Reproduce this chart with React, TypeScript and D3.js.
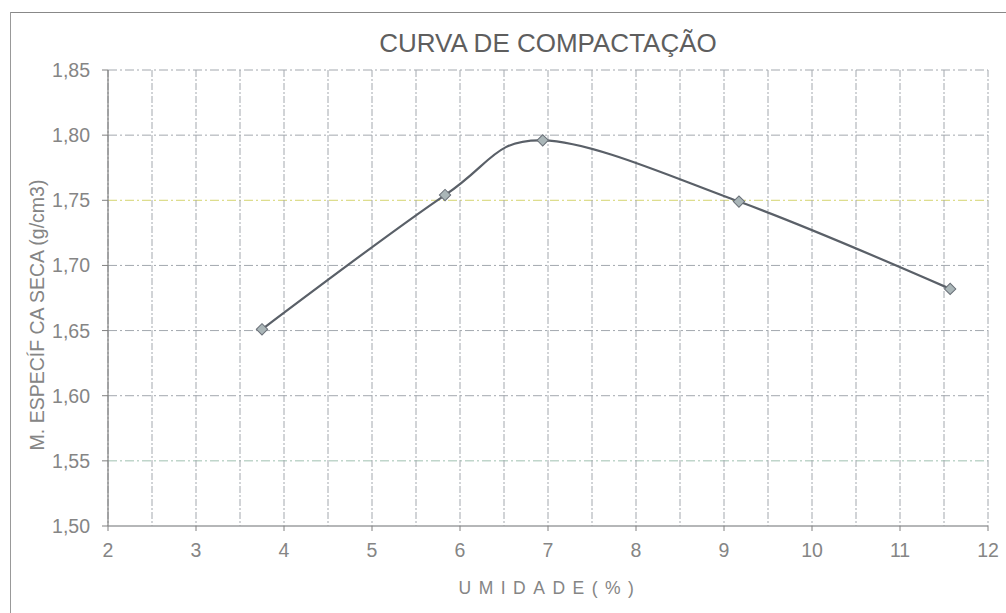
import React from "react";
import * as d3 from "d3";

const moisture = [3.75, 5.83, 6.94, 9.17, 11.57];
const density = [1.651, 1.754, 1.796, 1.749, 1.682];
const xTicks = [2, 3, 4, 5, 6, 7, 8, 9, 10, 11, 12];
const xMinor = [2.5, 3.5, 4.5, 5.5, 6.5, 7.5, 8.5, 9.5, 10.5, 11.5];
const yTicks = [1.5, 1.55, 1.6, 1.65, 1.7, 1.75, 1.8, 1.85];
const title = "CURVA DE COMPACTAÇÃO";
const yTitle = "M. ESPECÍF CA SECA (g/cm3)";
const xTitle = "UMIDADE(%)";

const W = 1006;
const H = 613;
const L = 108, R = 988, T = 70, B = 526;

export default function App() {
  const x = d3.scaleLinear().domain([2, 12]).range([L, R]);
  const y = d3.scaleLinear().domain([1.5, 1.85]).range([B, T]);
  const pts: [number, number][] = moisture.map((m, i) => [x(m), y(density[i])]);
  const line = d3.line().curve(d3.curveCardinal.tension(0))(pts) || "";
  const fmt = (v: number) => v.toFixed(2).replace(".", ",");
  const font = "Arial, 'Liberation Sans', sans-serif";
  const grid = "#a3a8ae";
  return (
    <svg width={W} height={H} style={{ position: "absolute", left: 0, top: 0, background: "#fff" }}>
      <rect x={0} y={0} width={W} height={H} fill="#fff" />
      <line x1={10} y1={12.5} x2={W} y2={12.5} stroke="#888" strokeWidth={1} />
      <line x1={10.5} y1={12} x2={10.5} y2={H} stroke="#999" strokeWidth={1} />
      <text x={548} y={52} textAnchor="middle" fontFamily={font} fontSize={26} fill="#5e5e5e">{title}</text>
      {yTicks.map((t) => (
        <line key={"h" + t} x1={L} x2={R} y1={y(t)} y2={y(t)} stroke={t === 1.75 ? "#d4d470" : t === 1.55 ? "#9fc0b0" : grid} strokeWidth={1} strokeDasharray={t === 1.5 ? "none" : "9,3,2,3"} />
      ))}
      {xTicks.concat(xMinor).map((t) => (
        <line key={"v" + t} x1={x(t)} x2={x(t)} y1={T} y2={B} stroke={grid} strokeWidth={1} strokeDasharray="7,2,2,2" />
      ))}
      <line x1={L} x2={L} y1={T} y2={B} stroke="#808080" strokeWidth={1.2} />
      <line x1={L} x2={R} y1={B} y2={B} stroke="#999" strokeWidth={1.2} />
      {yTicks.map((t) => (
        <g key={"yt" + t}>
          <line x1={L - 6} x2={L} y1={y(t)} y2={y(t)} stroke="#808080" />
          <text x={L - 18} y={y(t) + 7} textAnchor="end" fontFamily={font} fontSize={19.5} fill="#858585">{fmt(t)}</text>
        </g>
      ))}
      {xTicks.map((t) => (
        <g key={"xt" + t}>
          <line x1={x(t)} x2={x(t)} y1={B} y2={B + 5} stroke="#808080" />
          <text x={x(t)} y={B + 31} textAnchor="middle" fontFamily={font} fontSize={19.5} fill="#858585">{t}</text>
        </g>
      ))}
      <text transform={`translate(44,${(T + B) / 2 + 17}) rotate(-90)`} textAnchor="middle" fontFamily={font} fontSize={19.5} fill="#858585">{yTitle}</text>
      <text x={550} y={594} textAnchor="middle" fontFamily={font} fontSize={17.5} letterSpacing={7.5} fill="#858585">{xTitle}</text>
      <path d={line} fill="none" stroke="#5a6068" strokeWidth={2.2} />
      {pts.map((p, i) => (
        <path key={"m" + i} d={d3.symbol(d3.symbolSquare, 64)() || ""} transform={`translate(${p[0]},${p[1]}) rotate(45)`} fill="#aab6b8" stroke="#6a7078" strokeWidth={1} />
      ))}
    </svg>
  );
}
